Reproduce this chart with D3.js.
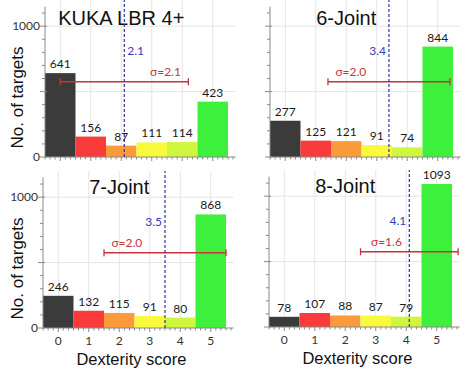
<!DOCTYPE html>
<html>
<head>
<meta charset="utf-8">
<script src="https://cdn.jsdelivr.net/npm/d3@7"></script>
<style>
  body { margin: 0; background: #fff; }
  svg { display: block; }
</style>
</head>
<body>
<div id="chart"></div>
<script>
// data
const scores = [0, 1, 2, 3, 4, 5];
const titles = ["KUKA LBR 4+", "6-Joint", "7-Joint", "8-Joint"];
const countsKuka = [641, 156, 87, 111, 114, 423];
const counts6 = [277, 125, 121, 91, 74, 844];
const counts7 = [246, 132, 115, 91, 80, 868];
const counts8 = [78, 107, 88, 87, 79, 1093];
const means = [2.1, 3.4, 3.5, 4.1];
const sigmas = [2.1, 2.0, 2.0, 1.6];
const yTicks = [0, 1000];

const allCounts = [countsKuka, counts6, counts7, counts8];
const barColors = ["#3b3b3b", "#fa3b3b", "#fa9a3a", "#fafa3c", "#cdf63c", "#3cf03c"];

// layout of the 4 panels (left edge of x axis, top of plot area)
const panelLeft = [45, 270, 43, 269];
const panelTop = [0, 0, 171, 170];
const meanLabelRight = [true, false, false, false];
const sigmaLabelX = [3.45, 2.15, 2.25, 3.35];

const W = 465, H = 378;
const plotH = 157;

const svg = d3.select("#chart")
    .append("svg")
    .attr("width", W)
    .attr("height", H)
    .style("font-family", "'Liberation Sans', Arial, sans-serif");

const x = d3.scaleLinear().domain([-0.5, 5.5]).range([0, 183]);
const y = d3.scaleLinear().domain([0, 1200]).range([plotH, 0]);

titles.forEach((title, i) => {
    const g = svg.append("g")
        .attr("transform", `translate(${panelLeft[i]},${panelTop[i]})`);
    const data = allCounts[i];

    // grid
    g.selectAll(".vgrid")
        .data(scores)
        .join("line")
        .attr("x1", d => x(d)).attr("x2", d => x(d))
        .attr("y1", y(0)).attr("y2", y(1200))
        .attr("stroke", "#e4e4e4").attr("stroke-width", 1);
    g.selectAll(".hgrid")
        .data([500, 1000])
        .join("line")
        .attr("x1", x(-0.5)).attr("x2", x(5.75))
        .attr("y1", d => y(d)).attr("y2", d => y(d))
        .attr("stroke", "#e4e4e4").attr("stroke-width", 1);

    // title
    g.append("text")
        .attr("x", x(2))
        .attr("y", y(1000) - (i < 2 ? 1 : 3))
        .attr("text-anchor", "middle")
        .attr("font-size", 20)
        .attr("fill", "#111")
        .text(title);

    // bars
    g.selectAll(".bar")
        .data(data)
        .join("rect")
        .attr("x", (d, j) => x(scores[j] - 0.5))
        .attr("width", x(1) - x(0))
        .attr("y", d => y(d))
        .attr("height", d => y(0) - y(d))
        .attr("fill", (d, j) => barColors[j]);

    g.selectAll(".val")
        .data(data)
        .join("text")
        .attr("x", (d, j) => x(scores[j]))
        .attr("y", d => y(d) - 5)
        .attr("text-anchor", "middle")
        .attr("font-family", "Lato, 'Open Sans', sans-serif")
        .attr("font-size", 12)
        .attr("fill", "#1a1a1a")
        .text(d => d);

    // axes
    const axisColor = "#8a8a8a";
    g.append("line")
        .attr("x1", x(-0.5)).attr("x2", x(5.75))
        .attr("y1", y(0)).attr("y2", y(0))
        .attr("stroke", axisColor);
    g.selectAll(".xminor")
        .data(d3.range(-3, 35).map(k => k / 6))
        .join("line")
        .attr("x1", d => x(d)).attr("x2", d => x(d))
        .attr("y1", y(0)).attr("y2", d => y(0) + (Math.abs(d - Math.round(d)) < 1e-6 ? 4 : 2.5))
        .attr("stroke", axisColor);

    g.append("line")
        .attr("x1", 0).attr("x2", 0)
        .attr("y1", y(0)).attr("y2", y(1150))
        .attr("stroke", axisColor);
    g.selectAll(".yminor")
        .data(d3.range(0, 1200, 100))
        .join("line")
        .attr("x1", d => d % 500 === 0 ? -5 : -3)
        .attr("x2", d => d % 500 === 0 ? 2 : 0)
        .attr("y1", d => y(d)).attr("y2", d => y(d))
        .attr("stroke", axisColor);

    if (i % 2 === 0) {
        g.selectAll(".ylab")
            .data(yTicks)
            .join("text")
            .attr("x", -5)
            .attr("y", d => y(d) + 4)
            .attr("text-anchor", "end")
            .attr("font-family", "Lato, 'Open Sans', sans-serif")
            .attr("font-size", 12)
            .attr("fill", "#333")
            .text(d => d);
        g.append("text")
            .attr("transform", `translate(${-panelLeft[i] + 23},${y(455)}) rotate(-90)`)
            .attr("text-anchor", "middle")
            .attr("font-size", 17)
            .attr("fill", "#111")
            .text("No. of targets");
    }

    if (i >= 2) {
        g.selectAll(".xlab")
            .data(scores)
            .join("text")
            .attr("x", d => x(d))
            .attr("y", y(0) + 17)
            .attr("text-anchor", "middle")
            .attr("font-family", "Lato, 'Open Sans', sans-serif")
            .attr("font-size", 12)
            .attr("fill", "#333")
            .text(d => d);
        g.append("text")
            .attr("x", x(2.4))
            .attr("y", y(0) + 37)
            .attr("text-anchor", "middle")
            .attr("font-size", 16.5)
            .attr("fill", "#111")
            .text("Dexterity score");
    }

    // sigma bar
    const m = means[i], s = sigmas[i];
    const sy = y(575);
    const sigColor = "#c8323c";
    g.append("line")
        .attr("x1", x(m - s)).attr("x2", x(m + s))
        .attr("y1", sy).attr("y2", sy)
        .attr("stroke", sigColor).attr("stroke-width", 1.3);
    g.selectAll(".cap")
        .data([m - s, m + s])
        .join("line")
        .attr("x1", d => x(d)).attr("x2", d => x(d))
        .attr("y1", sy - 3.5).attr("y2", sy + 3.5)
        .attr("stroke", sigColor).attr("stroke-width", 1.3);
    g.append("text")
        .attr("x", x(sigmaLabelX[i]))
        .attr("y", sy - 6)
        .attr("text-anchor", "middle")
        .attr("font-family", "Lato, 'Open Sans', sans-serif")
        .attr("font-size", 12)
        .attr("fill", sigColor)
        .text("σ=" + s.toFixed(1));

    // mean line
    g.append("line")
        .attr("x1", x(m)).attr("x2", x(m))
        .attr("y1", y(0)).attr("y2", y(1200))
        .attr("stroke", "#34349e")
        .attr("stroke-width", 1.2)
        .attr("stroke-dasharray", "3,2");
    g.append("text")
        .attr("x", x(m) + (meanLabelRight[i] ? 3 : -3))
        .attr("y", y(810) + 4)
        .attr("text-anchor", meanLabelRight[i] ? "start" : "end")
        .attr("font-family", "Lato, 'Open Sans', sans-serif")
        .attr("font-size", 12)
        .attr("fill", "#3a3ab4")
        .text(m.toFixed(1));
});
</script>
</body>
</html>
